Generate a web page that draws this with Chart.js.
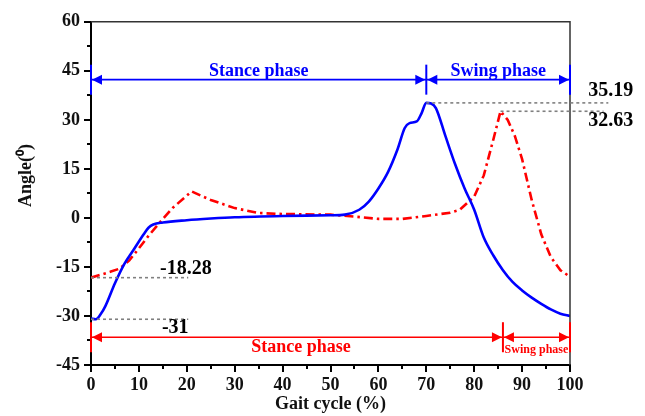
<!DOCTYPE html>
<html>
<head>
<meta charset="utf-8">
<script src="https://cdn.jsdelivr.net/npm/chart.js@4.4.1/dist/chart.umd.min.js"></script>
<style>
  html, body { margin: 0; padding: 0; background: #fff; }
  #wrap { width: 645px; height: 416px; }
</style>
</head>
<body>
<div id="wrap"><canvas id="chart" width="645" height="416"></canvas></div>
<script>
// gait cycle (%) / angle (deg)
const blueX = [0, 1, 2, 3, 5, 7, 9, 11, 12, 13, 15, 20, 25, 30, 40, 50, 53, 56, 58, 60, 62, 64, 65.5, 66.5, 68, 69, 70, 71, 72, 74, 76, 78, 80, 82, 84, 86, 88, 90, 92, 94, 96, 98, 100];
const blueY = [-30.8, -31, -29.5, -27, -20, -14, -9.5, -5, -3, -2, -1.4, -0.7, -0.2, 0.2, 0.6, 0.8, 1, 2.5, 5, 9, 14, 21, 27.5, 29, 29.5, 32, 35.19, 35, 33.6, 25, 16.5, 9, 2.5, -6, -11.5, -16, -19.6, -22.2, -24.4, -26.3, -28, -29.3, -30];

const redX = [0, 4, 6, 8, 10, 12, 14, 17, 21, 25, 30, 35, 40, 50, 55, 60, 65, 70, 75, 77, 80, 82, 84, 85.5, 87, 88.5, 90, 92, 94, 96, 98, 100];
const redY = [-18.28, -16.5, -15.5, -13, -9.3, -5.5, -2, 3, 8.1, 5.5, 3, 1.5, 1.2, 1, 0.4, -0.3, -0.3, 0.6, 1.6, 2.5, 6.5, 13, 24, 32.63, 30, 25, 18, 5.5, -5, -12, -16, -18];

const yTicks = [-45, -30, -15, 0, 15, 30, 45, 60];
const xTicks = [0, 10, 20, 30, 40, 50, 60, 70, 80, 90, 100];

// phase boundaries (% of gait cycle)
const bluePhaseX = [0, 70, 100];
const redPhaseX = [0, 86, 100];
const phaseNames = ['Stance phase', 'Swing phase'];

// marked extreme values: [x of the point, value]
const peakMarks = [[70, 35.19], [85.5, 32.63], [0, -18.28], [0, -31]];

const serif = "'Liberation Serif', 'Times New Roman', serif";

const toPts = (xs, ys) => xs.map((x, i) => ({ x, y: ys[i] }));

function arrowHead(ctx, x, y, dir, color) {
    ctx.fillStyle = color;
    ctx.beginPath();
    ctx.moveTo(x, y);
    ctx.lineTo(x - dir * 10, y - 5);
    ctx.lineTo(x - dir * 10, y + 5);
    ctx.closePath();
    ctx.fill();
}

function phaseBar(ctx, sx, yv, xs, color, names, fonts, textY) {
    const y = sx.y.getPixelForValue(yv);
    const px = xs.map(v => sx.x.getPixelForValue(v));
    ctx.strokeStyle = color;
    ctx.lineWidth = 1.6;
    for (let i = 0; i < px.length - 1; i++) {
        ctx.beginPath();
        ctx.moveTo(px[i], y);
        ctx.lineTo(px[i + 1], y);
        ctx.stroke();
        arrowHead(ctx, px[i] + 1, y, -1, color);
        arrowHead(ctx, px[i + 1] - 1, y, 1, color);
    }
    ctx.lineWidth = 2;
    px.forEach(p => {
        ctx.beginPath();
        ctx.moveTo(p, y - 15);
        ctx.lineTo(p, y + 15);
        ctx.stroke();
    });
    ctx.fillStyle = color;
    ctx.textAlign = 'center';
    ctx.textBaseline = 'middle';
    names.forEach((n, i) => {
        ctx.font = fonts[i];
        ctx.fillText(n, (px[i] + px[i + 1]) / 2 + textY[i][0], sx.y.getPixelForValue(textY[i][1]));
    });
}

const decorations = {
    id: 'decorations',
    afterDatasetsDraw(chart) {
        const { ctx, chartArea: a } = chart;
        const sx = { x: chart.scales.x, y: chart.scales.y };
        ctx.save();

        // frame top and right
        ctx.strokeStyle = '#333';
        ctx.lineWidth = 1.5;
        ctx.beginPath();
        ctx.moveTo(a.left, a.top);
        ctx.lineTo(a.right, a.top);
        ctx.lineTo(a.right, a.bottom);
        ctx.stroke();

        // major and minor ticks, pointing out
        ctx.strokeStyle = '#000';
        ctx.lineWidth = 2;
        for (let v = -45; v <= 60; v += 7.5) {
            const p = Math.round(sx.y.getPixelForValue(v));
            const len = v % 15 === 0 ? 7 : 4;
            ctx.beginPath();
            ctx.moveTo(a.left, p);
            ctx.lineTo(a.left - len, p);
            ctx.stroke();
        }
        for (let v = 0; v <= 100; v += 5) {
            const p = Math.round(sx.x.getPixelForValue(v));
            const len = v % 10 === 0 ? 7 : 4;
            ctx.beginPath();
            ctx.moveTo(p, a.bottom);
            ctx.lineTo(p, a.bottom + len);
            ctx.stroke();
        }

        // dashed guides to the marked values
        ctx.strokeStyle = '#808080';
        ctx.lineWidth = 1.6;
        ctx.setLineDash([3, 3]);
        const guideEnd = [108, 107, 20.3, 20.3];
        peakMarks.forEach(([x, v], i) => {
            const y = sx.y.getPixelForValue(v);
            ctx.beginPath();
            ctx.moveTo(sx.x.getPixelForValue(x), y);
            ctx.lineTo(sx.x.getPixelForValue(guideEnd[i]), y);
            ctx.stroke();
        });
        ctx.setLineDash([]);

        ctx.fillStyle = '#000';
        ctx.font = 'bold 20px ' + serif;
        ctx.textAlign = 'left';
        ctx.textBaseline = 'middle';
        const labelAt = [[103.8, 38.9], [103.8, 29.6], [14.4, -15.7], [14.8, -33.6]];
        peakMarks.forEach(([, v], i) => {
            ctx.fillText(String(v), sx.x.getPixelForValue(labelAt[i][0]), sx.y.getPixelForValue(labelAt[i][1]));
        });

        // phase arrows
        phaseBar(ctx, sx, 42.3, bluePhaseX, '#0000ff', phaseNames,
            ['bold 18px ' + serif, 'bold 18px ' + serif], [[0, 44.8], [0, 44.8]]);
        phaseBar(ctx, sx, -36.5, redPhaseX, '#ff0000', phaseNames,
            ['bold 18px ' + serif, 'bold 12px ' + serif], [[4, -39.6], [0, -40.4]]);

        ctx.restore();
    }
};

new Chart(document.getElementById('chart'), {
    type: 'line',
    data: {
        datasets: [
            {
                label: 'Blue',
                data: toPts(blueX, blueY),
                borderColor: '#0000ff',
                borderWidth: 2.6,
                pointRadius: 0,
                cubicInterpolationMode: 'monotone',
                fill: false,
            },
            {
                label: 'Red',
                data: toPts(redX, redY),
                borderColor: '#ff0000',
                borderWidth: 2.6,
                borderDash: [9, 4, 2.5, 4],
                pointRadius: 0,
                tension: 0,
                fill: false,
            },
        ],
    },
    options: {
        responsive: false,
        animation: false,
        layout: { padding: { left: 12, right: 75, top: 17, bottom: 0 } },
        plugins: { legend: { display: false }, tooltip: { enabled: false } },
        scales: {
            x: {
                type: 'linear',
                min: 0, max: 100,
                afterFit: s => { s.height = 51; },
                afterBuildTicks: s => { s.ticks = xTicks.map(v => ({ value: v })); },
                grid: { display: false, drawTicks: false },
                border: { display: true, color: '#000', width: 2 },
                ticks: { color: '#111', padding: 10, maxRotation: 0, font: { family: serif, size: 18, weight: 'bold' } },
                title: { display: true, text: 'Gait cycle (%)', color: '#111', padding: { top: 0, bottom: 1 }, font: { family: serif, size: 18, weight: 'bold' } },
            },
            y: {
                type: 'linear',
                min: -45, max: 60,
                afterFit: s => { s.width = 79; },
                afterBuildTicks: s => { s.ticks = yTicks.map(v => ({ value: v })); },
                grid: { display: false, drawTicks: false },
                border: { display: true, color: '#000', width: 2 },
                ticks: { color: '#111', padding: 11, font: { family: serif, size: 18, weight: 'bold' } },
                title: { display: true, text: '        Angle(⁰)', color: '#111', padding: { top: 4, bottom: 0 }, font: { family: serif, size: 18, weight: 'bold' } },
            },
        },
    },
    plugins: [decorations],
});
</script>
</body>
</html>
